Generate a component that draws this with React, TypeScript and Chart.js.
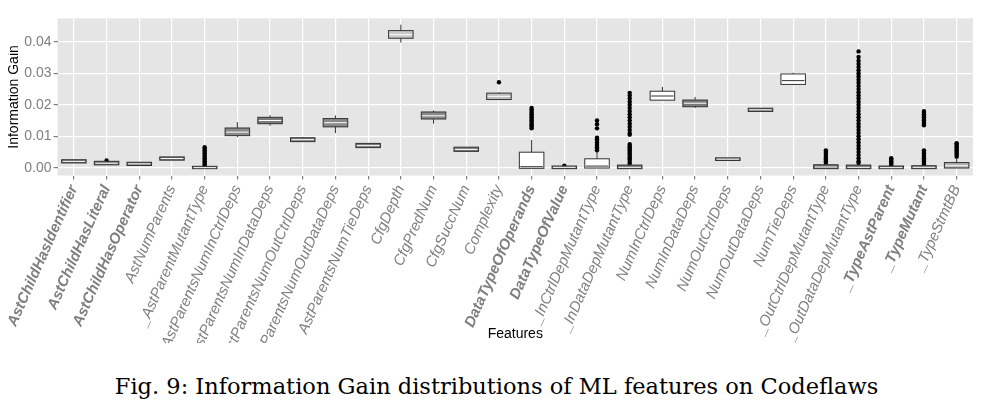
import { useEffect, useRef } from "react";
import { Chart, registerables, type Plugin } from "chart.js";

Chart.register(...registerables);

const features = [
  "AstChildHasIdentifier", "AstChildHasLiteral", "AstChildHasOperator", "AstNumParents",
  "_AstParentMutantType", "AstParentsNumInCtrlDeps", "AstParentsNumInDataDeps",
  "AstParentsNumOutCtrlDeps", "AstParentsNumOutDataDeps", "AstParentsNumTieDeps",
  "CfgDepth", "CfgPredNum", "CfgSuccNum", "Complexity", "DataTypeOfOperands",
  "DataTypeOfValue", "_InCtrlDepMutantType", "_InDataDepMutantType", "NumInCtrlDeps",
  "NumInDataDeps", "NumOutCtrlDeps", "NumOutDataDeps", "NumTieDeps",
  "_OutCtrlDepMutantType", "_OutDataDepMutantType", "_TypeAstParent", "_TypeMutant",
  "_TypeStmtBB",
];
const boldFeatures = [
  "AstChildHasIdentifier", "AstChildHasLiteral", "AstChildHasOperator",
  "DataTypeOfOperands", "DataTypeOfValue", "_TypeAstParent", "_TypeMutant",
];

const whiskerLow = [0.0017, 0.001, 0.0008, 0.0025, 0, 0.0097, 0.0133, 0.0083, 0.011, 0.0064, 0.0398, 0.014, 0.005, 0.0215, 0, 0, 0, 0, 0.0215, 0.019, 0.0025, 0.018, 0.0265, 0, 0, 0, 0, 0];
const q1 = [0.0018, 0.0012, 0.001, 0.0027, 0, 0.0105, 0.0143, 0.0086, 0.0133, 0.0067, 0.0415, 0.0158, 0.0055, 0.022, 0.0001, 0, 0.0002, 0, 0.0218, 0.0197, 0.0026, 0.0182, 0.0268, 0, 0, 0, 0, 0.0002];
const medians = [0.002, 0.0014, 0.0012, 0.0029, 0, 0.0113, 0.015, 0.0089, 0.0143, 0.007, 0.0423, 0.0165, 0.0058, 0.0227, 0.0003, 0.0001, 0.0005, 0.0001, 0.0228, 0.0205, 0.0027, 0.0184, 0.0277, 0.0002, 0.0001, 0, 0.0001, 0.0006];
const q3 = [0.0022, 0.0017, 0.0014, 0.0031, 0.0001, 0.0123, 0.0157, 0.0092, 0.0153, 0.0074, 0.0433, 0.0174, 0.0062, 0.0234, 0.0046, 0.0002, 0.0025, 0.0005, 0.024, 0.0212, 0.0028, 0.0186, 0.0295, 0.0006, 0.0005, 0.0002, 0.0003, 0.0013];
const whiskerHigh = [0.0023, 0.0019, 0.0016, 0.0033, 0.0003, 0.0145, 0.0167, 0.0096, 0.0166, 0.0078, 0.0455, 0.0182, 0.0065, 0.024, 0.0088, 0.0004, 0.005, 0.001, 0.0257, 0.0225, 0.0029, 0.0188, 0.0302, 0.001, 0.001, 0.0005, 0.0005, 0.003];
const boxFills = ["#6e6e6e", "#6e6e6e", "#6e6e6e", "#6e6e6e", "#6e6e6e", "#8a8a8a", "#7a7a7a", "#7a7a7a", "#8a8a8a", "#7a7a7a", "#c8c8c8", "#8a8a8a", "#7a7a7a", "#bdbdbd", "#ffffff", "#6e6e6e", "#ffffff", "#6e6e6e", "#ffffff", "#7a7a7a", "#6e6e6e", "#6e6e6e", "#ffffff", "#6e6e6e", "#6e6e6e", "#6e6e6e", "#6e6e6e", "#b0b0b0"];

const outliers: [string, number[]][] = [
  ["AstChildHasLiteral", [0.0023]],
  ["_AstParentMutantType", [0.0005, 0.001, 0.0015, 0.002, 0.0025, 0.003, 0.0035, 0.004, 0.0045, 0.005, 0.0055, 0.006, 0.0065]],
  ["Complexity", [0.0272]],
  ["DataTypeOfOperands", [0.0125, 0.013, 0.0135, 0.014, 0.0145, 0.015, 0.0155, 0.016, 0.0165, 0.017, 0.0175, 0.018, 0.0185, 0.019]],
  ["DataTypeOfValue", [0.0006]],
  ["_InCtrlDepMutantType", [0.0055, 0.006, 0.0065, 0.007, 0.0075, 0.008, 0.0085, 0.009, 0.0095, 0.0125, 0.0138, 0.015]],
  ["_InDataDepMutantType", [0.0012, 0.0018, 0.0025, 0.003, 0.0035, 0.004, 0.0045, 0.005, 0.0055, 0.006, 0.0065, 0.007, 0.0075, 0.0105, 0.011, 0.012, 0.013, 0.014, 0.015, 0.016, 0.017, 0.018, 0.019, 0.02, 0.021, 0.022, 0.023, 0.0238]],
  ["_OutCtrlDepMutantType", [0.0015, 0.002, 0.0025, 0.003, 0.0035, 0.004, 0.0045, 0.005, 0.0055]],
  ["_OutDataDepMutantType", [0.0015, 0.002, 0.003, 0.004, 0.005, 0.006, 0.007, 0.008, 0.009, 0.01, 0.011, 0.012, 0.013, 0.014, 0.015, 0.016, 0.017, 0.018, 0.019, 0.02, 0.021, 0.022, 0.023, 0.024, 0.025, 0.026, 0.027, 0.028, 0.029, 0.03, 0.031, 0.032, 0.033, 0.034, 0.0352, 0.037]],
  ["_TypeAstParent", [0.0008, 0.0012, 0.0016, 0.002, 0.0024, 0.0028, 0.003]],
  ["_TypeMutant", [0.001, 0.0015, 0.002, 0.0025, 0.003, 0.0035, 0.004, 0.0045, 0.005, 0.0055, 0.0135, 0.014, 0.0145, 0.015, 0.0155, 0.016, 0.0165, 0.017, 0.0175, 0.018]],
  ["_TypeStmtBB", [0.0035, 0.004, 0.0045, 0.005, 0.0055, 0.006, 0.0065, 0.007, 0.0075, 0.0078]],
];

const yTicks = [0, 0.01, 0.02, 0.03, 0.04];

const panelPlugin: Plugin<"bar"> = {
  id: "panel",
  beforeDraw(chart) {
    const { ctx, chartArea: a } = chart;
    ctx.save();
    ctx.fillStyle = "#e5e5e5";
    ctx.fillRect(a.left, a.top, a.right - a.left, a.bottom - a.top);
    ctx.restore();
  },
};

const boxPlugin: Plugin<"bar"> = {
  id: "boxes",
  afterDatasetsDraw(chart) {
    const { ctx } = chart;
    const x = chart.scales.x;
    const y = chart.scales.y;
    const meta = chart.getDatasetMeta(0);
    ctx.save();
    ctx.strokeStyle = "#333333";
    ctx.lineWidth = 1;
    features.forEach((_, i) => {
      const cx = x.getPixelForValue(i);
      const bar = meta.data[i] as any;
      const half = bar.width / 2;
      ctx.beginPath();
      ctx.moveTo(cx, y.getPixelForValue(whiskerLow[i]));
      ctx.lineTo(cx, y.getPixelForValue(q1[i]));
      ctx.moveTo(cx, y.getPixelForValue(q3[i]));
      ctx.lineTo(cx, y.getPixelForValue(whiskerHigh[i]));
      ctx.stroke();
      const top = y.getPixelForValue(q3[i]);
      const bottom = y.getPixelForValue(q1[i]);
      ctx.fillStyle = boxFills[i];
      ctx.fillRect(cx - half, top - 1, half * 2, Math.max(bottom - top, 0) + 2);
      ctx.strokeRect(cx - half, top - 1, half * 2, Math.max(bottom - top, 0) + 2);
      ctx.beginPath();
      ctx.strokeStyle = boxFills[i] === "#ffffff" ? "#333333" : "#ffffff";
      const my = y.getPixelForValue(medians[i]);
      ctx.moveTo(cx - half + 1, my);
      ctx.lineTo(cx + half - 1, my);
      ctx.stroke();
      ctx.strokeStyle = "#333333";
    });
    ctx.restore();
  },
};

export default function App() {
  const canvasRef = useRef<HTMLCanvasElement | null>(null);

  useEffect(() => {
    const canvas = canvasRef.current;
    if (!canvas) return;
    const points = outliers.flatMap(([f, vals]) => vals.map((v) => ({ x: f, y: v })));
    const chart = new Chart(canvas, {
      type: "bar",
      data: {
        labels: features,
        datasets: [
          {
            label: "box",
            data: features.map((_, i) => [q1[i], q3[i]] as [number, number]),
            backgroundColor: "rgba(0,0,0,0)",
            borderWidth: 0,
            barPercentage: 0.75,
            categoryPercentage: 1,
          },
          {
            type: "scatter" as any,
            label: "outliers",
            data: points as any,
            backgroundColor: "#000000",
            borderWidth: 0,
            pointRadius: 2.2,
          },
        ],
      },
      options: {
        animation: false,
        responsive: true,
        maintainAspectRatio: false,
        layout: { padding: { top: 0, right: 12, left: -4 } },
        plugins: { legend: { display: false }, tooltip: { enabled: false } },
        scales: {
          x: {
            type: "category",
            offset: true,
            grid: { color: "#ffffff", lineWidth: 1.2, offset: false, tickColor: "#7f7f7f", tickLength: 4 },
            border: { display: false },
            title: { display: true, text: "Features", color: "#000", font: { family: "Liberation Sans", size: 14 }, padding: { top: 2, bottom: 0 } },
            ticks: {
              minRotation: 66,
              maxRotation: 66,
              autoSkip: false,
              color: "#7f7f7f",
              font: (c: any) => ({
                family: "Liberation Sans",
                size: 15,
                style: "italic",
                weight: boldFeatures.includes(features[c.index]) ? "bold" : "normal",
              }),
            },
          },
          y: {
            min: -0.0025,
            max: 0.0475,
            afterBuildTicks: (s) => {
              s.ticks = yTicks.map((v) => ({ value: v }));
            },
            grid: { color: "#ffffff", lineWidth: 1.2, tickColor: "#7f7f7f", tickLength: 4 },
            border: { display: false },
            title: { display: true, text: "Information Gain", color: "#000", font: { family: "Liberation Sans", size: 14 }, padding: 0 },
            ticks: {
              color: "#7f7f7f",
              padding: 2,
              font: { family: "Liberation Sans", size: 14 },
              callback: (v) => Number(v).toFixed(2),
            },
          },
        },
      },
      plugins: [panelPlugin, boxPlugin],
    });
    return () => chart.destroy();
  }, []);

  return (
    <div style={{ width: 977 }}>
      <div style={{ height: 335, position: "relative" }}>
        <canvas ref={canvasRef} />
      </div>
      <div style={{ textAlign: "center", fontFamily: "'DejaVu Serif', serif", fontSize: 22.5, marginTop: 30 }}>
        Fig. 9: Information Gain distributions of ML features on Codeflaws
      </div>
    </div>
  );
}
